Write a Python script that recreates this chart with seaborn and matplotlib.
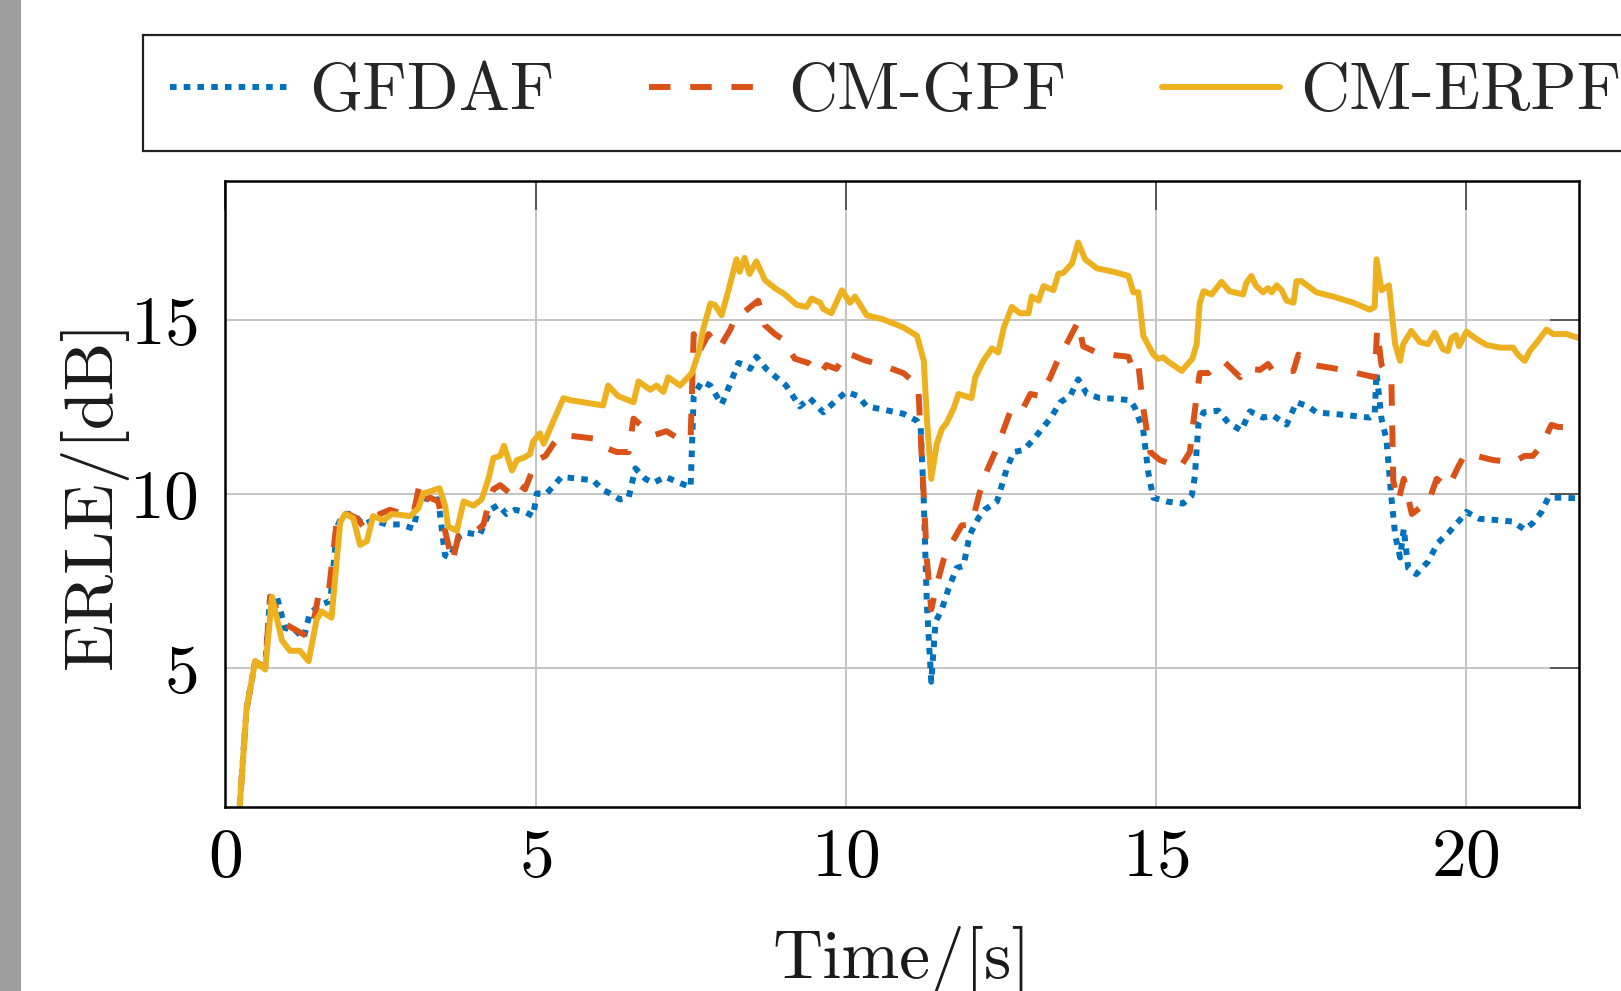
import matplotlib
matplotlib.use("Agg")
import matplotlib.pyplot as plt
import seaborn as sns
from matplotlib.patches import Rectangle

# ERLE curves (time in s, ERLE in dB)
t_gfdaf = [0.2, 0.34, 0.48, 0.64, 0.72, 0.83, 0.96, 1.12, 1.26, 1.36, 1.52, 1.69, 1.8, 1.9, 2.06, 2.22,
           2.38, 2.6, 2.82, 3.03, 3.14, 3.3, 3.43, 3.54, 3.62, 3.76, 3.89, 4.1, 4.27, 4.4, 4.53, 4.67,
           4.83, 4.96, 5.02, 5.18, 5.42, 5.5, 5.93, 6.07, 6.2, 6.36, 6.5, 6.61, 6.77, 6.9, 7.09, 7.33,
           7.5, 7.55, 7.68, 7.82, 8.0, 8.14, 8.27, 8.38, 8.46, 8.56, 8.72, 8.88, 9.04, 9.26, 9.42, 9.64,
           9.85, 10.01, 10.2, 10.34, 10.61, 10.93, 11.15, 11.21, 11.26, 11.31, 11.38, 11.45, 11.55, 11.66,
           11.79, 11.9, 12.0, 12.14, 12.24, 12.44, 12.6, 12.71, 12.87, 13.03, 13.16, 13.3, 13.46, 13.62,
           13.75, 13.89, 14.1, 14.37, 14.58, 14.66, 14.8, 14.88, 14.96, 15.17, 15.44, 15.58, 15.63, 15.69,
           15.77, 16.01, 16.17, 16.38, 16.52, 16.73, 16.89, 17.11, 17.27, 17.46, 17.59, 17.97, 18.45, 18.53,
           18.56, 18.59, 18.64, 18.72, 18.8, 18.86, 18.94, 19.0, 19.07, 19.2, 19.39, 19.55, 19.72, 19.9,
           20.01, 20.22, 20.55, 20.76, 20.95, 21.08, 21.22, 21.33, 21.49, 21.82]
erle_gfdaf = [0.3, 3.83, 5.2, 5.05, 7.05, 7.05, 6.15, 6.1, 5.86, 6.57, 6.81, 6.93, 9.07, 9.43, 9.43, 9.13,
              9.25, 9.13, 9.13, 9.01, 9.9, 9.85, 9.85, 8.24, 8.18, 8.77, 8.89, 8.83, 9.55, 9.69, 9.43, 9.55,
              9.49, 9.37, 10.02, 10.02, 10.5, 10.48, 10.4, 10.14, 10.02, 9.85, 9.9, 10.74, 10.44, 10.32, 10.5, 10.32,
              10.2, 12.82, 13.24, 13.12, 12.58, 13.18, 13.77, 13.71, 13.6, 13.95, 13.6, 13.36, 13.12, 12.52, 12.76, 12.35,
              12.7, 12.94, 12.82, 12.52, 12.43, 12.31, 12.11, 11.93, 9.79, 6.81, 4.61, 6.33, 6.69, 7.29,
              7.88, 7.94, 8.83, 9.31, 9.55, 9.79, 10.74, 11.21, 11.27, 11.57, 11.87, 12.17, 12.64, 12.82,
              13.3, 12.88, 12.76, 12.74, 12.7, 12.5, 11.81, 10.62, 9.9, 9.79, 9.73, 9.96, 10.5, 12.05,
              12.35, 12.4, 12.05, 11.83, 12.38, 12.2, 12.26, 12.0, 12.64, 12.52, 12.35, 12.29, 12.2, 12.29,
              13.48, 13.0, 12.17, 11.57, 9.9, 8.83, 8.18, 9.01, 7.88, 7.7, 8.06, 8.6, 8.89, 9.25,
              9.49, 9.29, 9.25, 9.21, 8.98, 9.17, 9.49, 9.9, 9.9, 9.88]

t_gpf = [0.2, 0.34, 0.48, 0.64, 0.72, 0.96, 1.31, 1.44, 1.5, 1.66, 1.8, 1.9, 2.12, 2.22, 2.33, 2.49,
         2.65, 2.76, 3.03, 3.12, 3.18, 3.3, 3.43, 3.54, 3.66, 3.76, 3.89, 4.05, 4.16, 4.27, 4.32, 4.43,
         4.59, 4.7, 4.83, 4.96, 5.02, 5.16, 5.29, 5.42, 5.5, 5.93, 6.04, 6.31, 6.5, 6.58, 6.77, 6.9,
         7.11, 7.33, 7.5, 7.55, 7.63, 7.79, 7.96, 8.14, 8.22, 8.38, 8.59, 8.7, 8.86, 9.0, 9.18, 9.4,
         9.59, 9.69, 9.85, 10.01, 10.29, 10.61, 10.93, 11.17, 11.23, 11.31, 11.38, 11.47, 11.58, 11.71,
         11.87, 12.03, 12.14, 12.22, 12.44, 12.65, 12.81, 12.98, 13.13, 13.3, 13.43, 13.56, 13.75, 13.83,
         14.05, 14.35, 14.56, 14.64, 14.72, 14.8, 14.91, 15.07, 15.26, 15.39, 15.55, 15.63, 15.71, 15.85,
         15.95, 16.09, 16.36, 16.44, 16.68, 16.81, 16.89, 17.22, 17.3, 17.54, 17.86, 18.19, 18.53, 18.57,
         18.64, 18.8, 18.83, 18.91, 19.0, 19.13, 19.26, 19.39, 19.53, 19.72, 19.88, 19.99, 20.12, 20.44,
         20.76, 20.95, 21.08, 21.22, 21.38, 21.49, 21.82]
erle_gpf = [0.3, 3.83, 5.2, 5.0, 7.05, 6.27, 5.92, 6.51, 7.1, 7.1, 9.31, 9.49, 9.31, 9.07, 9.25, 9.43,
            9.55, 9.49, 9.43, 10.2, 9.79, 9.9, 9.79, 8.95, 8.06, 8.83, 8.89, 8.95, 9.13, 9.9, 10.14, 10.26,
            10.02, 10.32, 10.14, 10.74, 10.98, 11.1, 11.45, 11.69, 11.69, 11.6, 11.39, 11.21, 11.21, 12.17, 11.87, 11.69,
            11.81, 11.57, 11.6, 14.6, 14.07, 14.6, 14.19, 14.73, 15.08, 15.26, 15.56, 14.85, 14.6, 14.43, 13.89, 13.77,
            13.45, 13.71, 13.6, 14.07, 13.86, 13.69, 13.48, 13.12, 10.98, 8.12, 6.69, 7.4, 8.12, 8.6,
            9.1, 9.13, 9.9, 10.44, 11.33, 12.35, 12.29, 12.88, 12.82, 13.36, 13.89, 14.31, 14.96, 14.25,
            14.07, 13.99, 13.95, 13.54, 13.71, 12.46, 11.21, 10.98, 10.86, 10.76, 11.21, 12.4, 13.48, 13.48,
            13.65, 13.83, 13.36, 13.62, 13.57, 13.74, 13.54, 13.54, 14.01, 13.71, 13.62, 13.5, 13.36, 14.73,
            13.71, 13.24, 10.38, 9.79, 10.44, 9.43, 9.61, 9.73, 10.44, 10.2, 10.8, 11.15, 11.12, 10.98,
            10.92, 11.1, 11.1, 11.39, 11.99, 11.93, 11.93]

t_erpf = [0.2, 0.34, 0.48, 0.64, 0.75, 0.91, 1.04, 1.2, 1.34, 1.47, 1.55, 1.71, 1.85, 1.93, 2.06, 2.17,
          2.28, 2.38, 2.55, 2.68, 2.98, 3.11, 3.19, 3.3, 3.45, 3.54, 3.59, 3.73, 3.84, 4.0, 4.13, 4.24,
          4.32, 4.43, 4.49, 4.62, 4.7, 4.8, 4.91, 4.96, 5.07, 5.13, 5.26, 5.45, 5.56, 6.09, 6.17, 6.33,
          6.58, 6.66, 6.85, 6.95, 7.06, 7.14, 7.33, 7.52, 7.63, 7.71, 7.82, 7.89, 8.0, 8.11, 8.24, 8.29,
          8.37, 8.45, 8.56, 8.7, 8.86, 9.02, 9.21, 9.37, 9.45, 9.59, 9.64, 9.77, 9.94, 10.07, 10.15, 10.34,
          10.61, 10.93, 11.15, 11.26, 11.31, 11.38, 11.47, 11.55, 11.63, 11.74, 11.82, 12.03, 12.09, 12.22,
          12.36, 12.46, 12.55, 12.68, 12.81, 12.95, 13.0, 13.11, 13.19, 13.35, 13.43, 13.51, 13.65, 13.75,
          13.86, 14.05, 14.32, 14.56, 14.64, 14.72, 14.8, 14.96, 15.04, 15.12, 15.2, 15.42, 15.5, 15.59,
          15.66, 15.71, 15.77, 15.9, 16.06, 16.19, 16.41, 16.46, 16.54, 16.62, 16.73, 16.81, 16.87, 16.95,
          17.03, 17.11, 17.22, 17.27, 17.35, 17.59, 17.86, 18.19, 18.45, 18.53, 18.56, 18.64, 18.76, 18.86,
          18.94, 18.99, 19.12, 19.26, 19.39, 19.5, 19.63, 19.71, 19.77, 19.84, 19.89, 20.01, 20.17, 20.33,
          20.55, 20.76, 20.84, 20.95, 21.03, 21.14, 21.3, 21.41, 21.62, 21.82]
erle_erpf = [0.3, 3.83, 5.2, 4.96, 7.05, 5.8, 5.5, 5.5, 5.2, 6.4, 6.63, 6.45, 9.19, 9.43, 9.31, 8.54,
             8.65, 9.37, 9.25, 9.43, 9.37, 9.6, 10.02, 10.08, 10.17, 9.67, 9.07, 8.95, 9.79, 9.67, 9.85, 10.44,
             11.04, 11.1, 11.39, 10.68, 10.98, 11.04, 11.15, 11.51, 11.75, 11.45, 11.99, 12.76, 12.7, 12.55, 13.12, 12.82,
             12.64, 13.24, 13.0, 13.12, 12.94, 13.36, 13.12, 13.48, 14.07, 14.79, 15.48, 15.44, 15.14, 15.86, 16.75, 16.39,
             16.79, 16.33, 16.69, 16.15, 15.92, 15.74, 15.44, 15.38, 15.62, 15.5, 15.32, 15.2, 15.86, 15.5, 15.68, 15.14,
             15.02, 14.79, 14.55, 13.83, 12.17, 10.44, 11.45, 11.87, 12.05, 12.46, 12.88, 12.76, 13.36, 13.83,
             14.19, 14.07, 14.79, 15.38, 15.2, 15.2, 15.68, 15.56, 15.98, 15.86, 16.33, 16.36, 16.63, 17.23,
             16.75, 16.49, 16.39, 16.27, 15.8, 15.8, 14.55, 14.01, 13.89, 13.93, 13.81, 13.54, 13.71, 13.89,
             14.31, 15.5, 15.83, 15.74, 16.1, 15.83, 15.74, 16.07, 16.27, 15.98, 15.8, 15.92, 15.8, 16.0,
             15.86, 15.56, 15.5, 16.12, 16.12, 15.8, 15.68, 15.5, 15.3, 15.38, 16.75, 15.86, 16.0, 14.31,
             13.83, 14.31, 14.69, 14.37, 14.31, 14.64, 14.17, 14.11, 14.49, 14.57, 14.25, 14.67, 14.46, 14.29,
             14.21, 14.21, 14.01, 13.83, 14.11, 14.35, 14.73, 14.6, 14.6, 14.49]

x_ticks = [0, 5, 10, 15, 20]
y_ticks = [5, 10, 15]

sns.set_theme(style="white")
plt.rcParams["font.family"] = ["cmr10", "DejaVu Serif"]
plt.rcParams["mathtext.fontset"] = "cm"
plt.rcParams["axes.formatter.use_mathtext"] = True
plt.rcParams["axes.unicode_minus"] = False

fs = 50
leg_fs = 49
lw = 4.3

fig = plt.figure(figsize=(16.21, 9.91), dpi=100)
fig.patches.append(Rectangle((0, 0), 21 / 1621, 1, transform=fig.transFigure,
                             facecolor="#9e9e9e", edgecolor="none", zorder=-5))
ax = fig.add_axes([0.1391, 0.1853, 0.8348, 0.6321])

sns.lineplot(x=t_gfdaf, y=erle_gfdaf, ax=ax, color="#0072BD", lw=lw,
             linestyle=(0, (1.1, 1.2)), dash_capstyle="butt", label="GFDAF",
             sort=False, errorbar=None)
sns.lineplot(x=t_gpf, y=erle_gpf, ax=ax, color="#D95319", lw=lw,
             linestyle=(0, (3.6, 3.3)), dash_capstyle="butt", label="CM-GPF",
             sort=False, errorbar=None)
sns.lineplot(x=t_erpf, y=erle_erpf, ax=ax, color="#EDB120", lw=lw,
             linestyle="-", label="CM-ERPF", sort=False, errorbar=None)

ax.set_xlim(0, 21.82)
ax.set_ylim(1, 19)
ax.set_xticks(x_ticks)
ax.set_yticks(y_ticks)
ax.grid(True, color="#c4c4c4", lw=1.4)
ax.set_axisbelow(True)
for s in ax.spines.values():
    s.set_color("black")
    s.set_linewidth(1.8)
ax.tick_params(axis="both", direction="in", length=21, width=1.4, color="#555555",
               labelsize=fs, top=True, right=True, labelcolor="black")
ax.tick_params(axis="x", pad=15)
ax.tick_params(axis="y", pad=20)

ax.set_xlabel("Time/[s]", fontsize=fs, color="#1a1a1a")
ax.set_ylabel("ERLE/[dB]", fontsize=fs, color="#1a1a1a")
ax.xaxis.set_label_coords(0.5, -0.19)
ax.yaxis.set_label_coords(-0.072, 0.5)

handles, labels = ax.get_legend_handles_labels()
ax.get_legend().remove()
leg = fig.legend(handles, labels, loc="upper left", bbox_to_anchor=(142.7 / 1621, 1 - 35 / 991),
                 ncol=3, fontsize=leg_fs, frameon=True, fancybox=False, framealpha=1,
                 edgecolor="#222222", borderpad=0.4, borderaxespad=0, handlelength=1.74,
                 handletextpad=0.3, columnspacing=1.4)
leg.get_frame().set_linewidth(1.6)

fig.savefig("out.png", dpi=100)
